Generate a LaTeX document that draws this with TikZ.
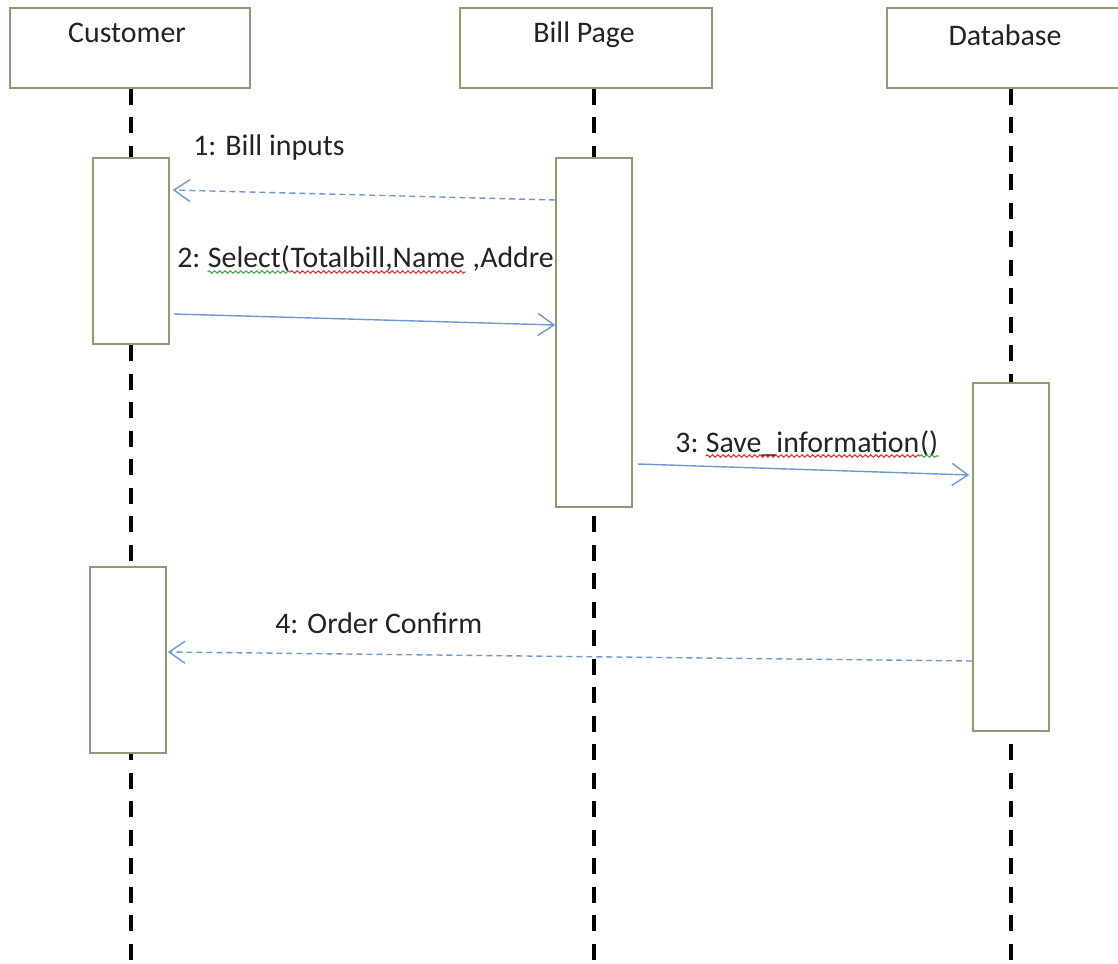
\documentclass[tikz,border=0pt]{standalone}
\usepackage{fontspec}
\setmainfont{Carlito}
\usetikzlibrary{arrows.meta,decorations.pathmorphing,calc}
\definecolor{boxline}{RGB}{140,154,120}
\definecolor{msgblue}{RGB}{110,152,208}
\definecolor{txt}{RGB}{35,35,35}
\definecolor{squigred}{RGB}{225,45,45}
\definecolor{squiggreen}{RGB}{70,165,70}
\begin{document}
\begin{tikzpicture}[x=0.02cm,y=-0.02cm,
  headbox/.style={draw=boxline, line width=0.9pt, fill=white, inner sep=0pt,
    minimum height=1.6cm},
  actbox/.style={draw=boxline, line width=0.9pt, fill=white, inner sep=0pt,
    minimum width=1.52cm},
  lifeline/.style={line width=2.5pt, black, dash pattern=on 0.32cm off 0.25cm},
  lbl/.style={inner sep=0pt, text=txt, font=\fontsize{17}{20}\selectfont},
  msgline/.style={draw=msgblue, line width=0.8pt,
    -{Straight Barb[length=0.32cm, width=0.44cm, line width=0.8pt]}},
  retline/.style={msgline, dash pattern=on 0.12cm off 0.08cm},
  squig/.style={line width=0.6pt, decorate,
    decoration={snake, segment length=3pt, amplitude=0.7pt}}]

\useasboundingbox (0,0) rectangle (1118,963);
\clip (0,0) rectangle (1118,963);
\coordinate (bottom) at (0,963);

% lifeline heads
\node[headbox, minimum width=4.8cm]  (cust) at (130,48) {};
\node[headbox, minimum width=5.04cm] (bill) at (586,48) {};
\node[headbox, minimum width=5.0cm]  (db)   at (1012,48) {};
\node[lbl, anchor=base] (custname) at (127,43) {Customer};
\node[lbl, anchor=base] (billname) at (584,43) {Bill Page};
\node[lbl, anchor=base] (dbname)   at (1005,46) {Database};

% activation positions
\coordinate (c1pos) at (131,251);
\coordinate (bppos) at (594,332.5);
\coordinate (dbpos) at (1011,557);
\coordinate (c2pos) at (128,660);

% lifelines
\draw[lifeline] (c1pos |- cust.south) -- (c1pos |- bottom);
\draw[lifeline] (bppos |- bill.south) -- (bppos |- bottom);
\draw[lifeline] (dbpos |- db.south) -- (dbpos |- bottom);

% message labels
\node[lbl, anchor=base west] (m1) at (193,155) {1: Bill inputs};

\node[lbl, anchor=base west] (m2a) at (177,267) {2:\ \mbox{}};
\node[lbl, anchor=base west] (m2b) at (m2a.base east) {Select(};
\node[lbl, anchor=base west] (m2c) at (m2b.base east) {Totalbill,Name};
\node[lbl, anchor=base west] (m2d) at (m2c.base east) {\mbox{}\ ,Address};
\draw[squig, squiggreen] ($(m2b.base west)+(0,5)$) -- ($(m2b.base east)+(0,5)$);
\draw[squig, squigred]   ($(m2c.base west)+(0,5)$) -- ($(m2c.base east)+(0,5)$);

\node[lbl, anchor=base west] (m3a) at (675,452) {3:\ \mbox{}};
\node[lbl, anchor=base west] (m3b) at (m3a.base east) {Save\_information};
\node[lbl, anchor=base west] (m3c) at (m3b.base east) {()};
\draw[squig, squigred]   ($(m3b.base west)+(0,4)$) -- ($(m3b.base east)+(0,4)$);
\draw[squig, squiggreen] ($(m3c.base west)+(0,4)$) -- ($(m3c.base east)+(0,4)$);

\node[lbl, anchor=base west] (m4) at (275,633) {4: Order Confirm};

% activation boxes
\node[actbox, minimum height=3.72cm] (act1)  at (c1pos) {};
\node[actbox, minimum height=6.98cm] (bpact) at (bppos) {};
\node[actbox, minimum height=6.96cm] (dbact) at (dbpos) {};
\node[actbox, minimum height=3.72cm] (act2)  at (c2pos) {};

% message end points on the activation boxes
\coordinate (m1from) at ($(bpact.west |- 0,200)$);
\coordinate (m1to)   at ($(act1.east |- 0,190)+(3,0)$);
\coordinate (m2from) at ($(act1.east |- 0,314)+(4,0)$);
\coordinate (m2to)   at ($(bpact.west |- 0,325)$);
\coordinate (m3from) at ($(bpact.east |- 0,464)+(5,0)$);
\coordinate (m3to)   at ($(dbact.west |- 0,475)+(-3,0)$);
\coordinate (m4from) at ($(dbact.west |- 0,661)$);
\coordinate (m4to)   at ($(act2.east |- 0,652)+(1,0)$);

% messages
\draw[retline] (m1from) -- (m1to);
\draw[msgline] (m2from) -- (m2to);
\draw[msgline] (m3from) -- (m3to);
\draw[retline] (m4from) -- (m4to);
\end{tikzpicture}
\end{document}
